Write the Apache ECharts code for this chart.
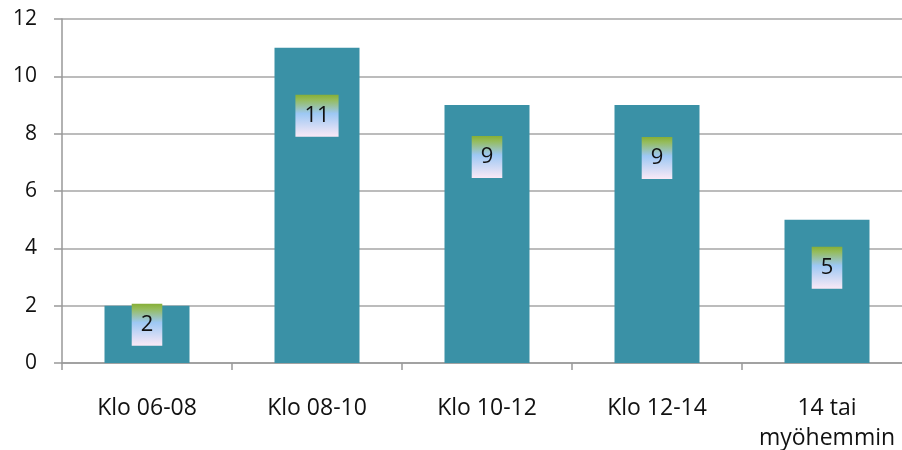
<!DOCTYPE html>
<html>
<head>
<meta charset="utf-8">
<script src="https://cdn.jsdelivr.net/npm/echarts@6/dist/echarts.min.js"></script>
<style>
  html, body { margin: 0; padding: 0; background: #fff; }
  #chart { width: 902px; height: 450px; }
</style>
</head>
<body>
<div id="chart"></div>
<script>
// Arrival time slots and counts
const categories = ['Klo 06-08', 'Klo 08-10', 'Klo 10-12', 'Klo 12-14', '14 tai\nmyöhemmin'];
const counts = [2, 11, 9, 9, 5];
const yTicks = [0, 2, 4, 6, 8, 10, 12];

// Gap (px) between the bar top and the top of its value box
const labelGap = [-2, 47, 31, 32, 27];

const labelBg = {
  type: 'linear', x: 0, y: 0, x2: 0, y2: 1,
  colorStops: [
    { offset: 0, color: '#86AE36' },
    { offset: 0.12, color: '#95BC5A' },
    { offset: 0.45, color: '#9DC8F4' },
    { offset: 1, color: '#FAE9F6' }
  ]
};

const chart = echarts.init(document.getElementById('chart'));
chart.setOption({
  animation: false,
  textStyle: { fontFamily: '"Open Sans", "Liberation Sans", sans-serif' },
  grid: { left: 62, top: 19, bottom: 87, right: -10, outerBoundsMode: 'none', containLabel: false },
  xAxis: {
    type: 'category',
    data: categories,
    boundaryGap: true,
    axisLine: { lineStyle: { color: '#999', width: 1.5 } },
    axisTick: { show: true, length: 7, interval: 0, lineStyle: { color: '#999', width: 1.5 } },
    axisLabel: { interval: 0, color: '#111', fontSize: 23, margin: 30, lineHeight: 30 }
  },
  yAxis: {
    type: 'value',
    min: yTicks[0],
    max: yTicks[yTicks.length - 1],
    interval: yTicks[1] - yTicks[0],
    axisLine: { show: true, lineStyle: { color: '#999', width: 1.5 } },
    axisTick: { show: true, length: 8, lineStyle: { color: '#999', width: 1.5 } },
    splitLine: { lineStyle: { color: '#A6A6A6', width: 1.5 } },
    axisLabel: { color: '#111', fontSize: 21, margin: 25 }
  },
  series: [{
    type: 'bar',
    barWidth: '50%',
    itemStyle: { color: '#3A91A6' },
    data: counts.map((v, i) => ({
      value: v,
      label: {
        show: true,
        position: 'insideTop',
        distance: labelGap[i],
        formatter: '{c}',
        color: '#111',
        fontSize: 22,
        lineHeight: 22,
        padding: [10, 9, 10, 9],
        backgroundColor: labelBg
      }
    }))
  }]
});
</script>
</body>
</html>
